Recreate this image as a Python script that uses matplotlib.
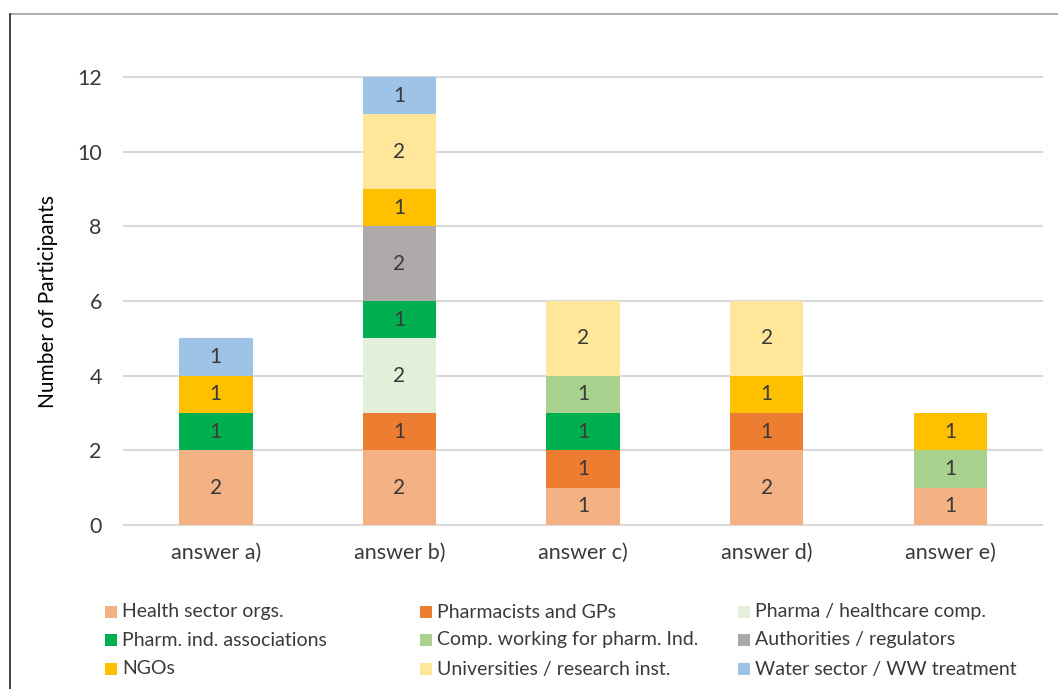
import matplotlib
matplotlib.use("Agg")
import matplotlib.pyplot as plt
from matplotlib.lines import Line2D
from matplotlib.patches import Rectangle
import numpy as np

plt.rcParams['font.family'] = ['Lato', 'DejaVu Sans']

categories = ["answer a)", "answer b)", "answer c)", "answer d)", "answer e)"]
series_names = [
    "Health sector orgs.",
    "Pharmacists and GPs",
    "Pharma / healthcare comp.",
    "Pharm. ind. associations",
    "Comp. working for pharm. Ind.",
    "Authorities / regulators",
    "NGOs",
    "Universities / research inst.",
    "Water sector / WW treatment",
]
health_sector = [2, 2, 1, 2, 1]
pharmacists_gps = [0, 1, 1, 1, 0]
pharma_companies = [0, 2, 0, 0, 0]
pharm_ind_assoc = [1, 1, 1, 0, 0]
comp_for_pharm = [0, 0, 1, 0, 1]
authorities = [0, 2, 0, 0, 0]
ngos = [1, 1, 0, 1, 1]
universities = [0, 2, 2, 2, 0]
water_sector = [1, 1, 0, 0, 0]
series_values = [health_sector, pharmacists_gps, pharma_companies, pharm_ind_assoc,
                 comp_for_pharm, authorities, ngos, universities, water_sector]
colors = ["#F4B183", "#ED7D31", "#E2EFDA", "#00B050", "#A9D18E",
          "#AEAAAA", "#FFC000", "#FFE699", "#9DC3E6"]
y_ticks = [0, 2, 4, 6, 8, 10, 12]

W, H = 1058, 689
fig = plt.figure(figsize=(W / 100, H / 100), dpi=100)
ax = fig.add_axes([0.1172, 0.238, 0.8678, 0.650])

x = np.arange(len(categories))
bottom = np.zeros(len(categories))
for name, vals, col in zip(series_names, series_values, colors):
    vals = np.array(vals, dtype=float)
    ax.bar(x, vals, width=0.4, bottom=bottom, color=col, label=name, zorder=3)
    for xi, v, b in zip(x, vals, bottom):
        if v > 0:
            ax.text(xi, b + v / 2, f"{int(v)}", ha="center", va="center",
                    fontsize=15, color="#3A3A3A", zorder=4)
    bottom += vals

ax.set_xlim(-0.5, len(categories) - 0.5)
ax.set_ylim(0, 12)
ax.set_yticks(y_ticks)
ax.set_xticks(x)
ax.set_xticklabels(categories)
ax.tick_params(axis="both", length=0, labelsize=15.5, colors="#3A3A3A")
ax.tick_params(axis="y", pad=16)
ax.tick_params(axis="x", pad=13)
for s in ax.spines.values():
    s.set_visible(False)
ax.yaxis.grid(True, color="#D9D9D9", linewidth=1.5, zorder=0)
for gl in ax.get_ygridlines():
    gl.set_clip_on(False)
ax.set_axisbelow(True)
ax.set_ylabel("Number of Participants", fontsize=15, color="#000000", labelpad=14)

# legend laid out row by row in three columns below the plot
col_x = [105, 420, 738]
row_y = [612, 640, 669]
box = 12
for i, (name, col) in enumerate(zip(series_names, colors)):
    r, c = divmod(i, 3)
    px, py = col_x[c], row_y[r]
    fig.add_artist(Rectangle((px / W, 1 - (py + box / 2) / H), box / W, box / H,
                             transform=fig.transFigure, facecolor=col,
                             edgecolor="none"))
    fig.text((px + box + 5) / W, 1 - py / H, name, ha="left", va="center",
             fontsize=14, color="#3A3A3A")

# outer frame: top and left edges
fig.add_artist(Line2D([10 / W, 1.0], [1 - 14 / H, 1 - 14 / H],
                      transform=fig.transFigure, color="#A0A0A0", linewidth=1.2))
fig.add_artist(Line2D([10 / W, 10 / W], [0.0, 1 - 14 / H],
                      transform=fig.transFigure, color="#202020", linewidth=1.2))

fig.savefig("out.png", dpi=100, facecolor="white")
